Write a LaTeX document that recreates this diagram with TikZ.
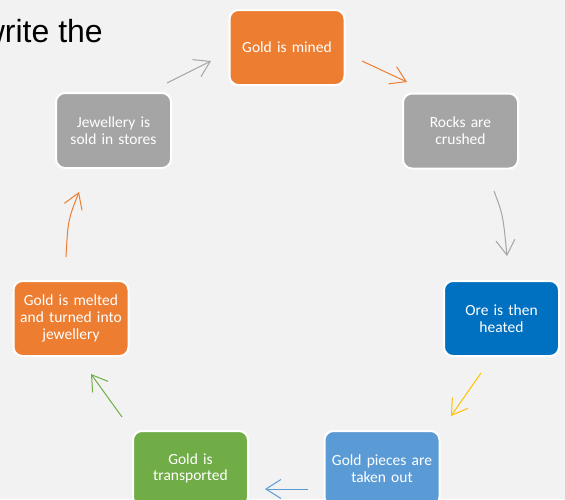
\documentclass[tikz,border=0pt]{standalone}
\usepackage{fontspec}
\setmainfont{Carlito}
\newfontfamily\arialfont{Liberation Sans}
\usetikzlibrary{arrows.meta}
\definecolor{bg}{HTML}{F2F2F2}
\definecolor{cOrange}{HTML}{ED7D31}
\definecolor{cGray}{HTML}{A5A5A5}
\definecolor{cDarkBlue}{HTML}{0070C0}
\definecolor{cBlue}{HTML}{5B9BD5}
\definecolor{cGreen}{HTML}{70AD47}
\definecolor{cYellow}{HTML}{FFC000}
\begin{document}
\begin{tikzpicture}[x=1pt,y=-1pt,
  stepbox/.style={rounded corners=9pt, draw=white, line width=2pt,
    minimum width=115pt, minimum height=75pt, text width=112pt,
    align=center, text=white, inner sep=0pt,
    font=\fontsize{15.5}{16.7}\selectfont},
  conn/.style={line width=1pt, -{Straight Barb[length=15pt,width=19pt]}}]
\useasboundingbox (0,0) rectangle (565,499);
\fill[bg] (0,0) rectangle (565,499);

\node[anchor=base east, font=\arialfont\fontsize{32}{38}\selectfont, inner sep=0pt] (title) at (103,42) {write the};

\node[stepbox, fill=cOrange] (mined) at (287,47.5) {Gold is mined};
\node[stepbox, fill=cGray] (rocks) at (460.5,131) {Rocks are\\crushed};
\node[stepbox, fill=cDarkBlue] (ore) at (501.5,318.5) {Ore is then\\heated};
\node[stepbox, fill=cBlue] (pieces) at (382,468.5) {Gold pieces are\\taken out};
\node[stepbox, fill=cGreen] (transp) at (190.5,468.5) {Gold is\\transported};
\node[stepbox, fill=cOrange] (melted) at (71,318.5) {Gold is melted\\and turned into\\jewellery};
\node[stepbox, fill=cGray] (jewel) at (113.5,130.5) {Jewellery is\\sold in stores};

\coordinate (a1s) at (362,61);  \coordinate (a1e) at (407,82);
\coordinate (a2s) at (494,191); \coordinate (a2c) at (503,215); \coordinate (a2e) at (507,256);
\coordinate (a3s) at (481,373); \coordinate (a3e) at (451,416);
\coordinate (a4s) at (308,489); \coordinate (a4e) at (265,489);
\coordinate (a5s) at (122,417); \coordinate (a5e) at (91,374);
\coordinate (a6s) at (66,257);  \coordinate (a6c) at (68,220); \coordinate (a6e) at (79,192);
\coordinate (a7s) at (167,83);  \coordinate (a7e) at (211,61);

\draw[conn, cOrange] (a1s) -- (a1e);
\draw[conn, cGray] (a2s) .. controls (a2c) .. (a2e);
\draw[conn, cYellow] (a3s) -- (a3e);
\draw[conn, cBlue] (a4s) -- (a4e);
\draw[conn, cGreen] (a5s) -- (a5e);
\draw[conn, cOrange] (a6s) .. controls (a6c) .. (a6e);
\draw[conn, cGray] (a7s) -- (a7e);
\end{tikzpicture}
\end{document}
